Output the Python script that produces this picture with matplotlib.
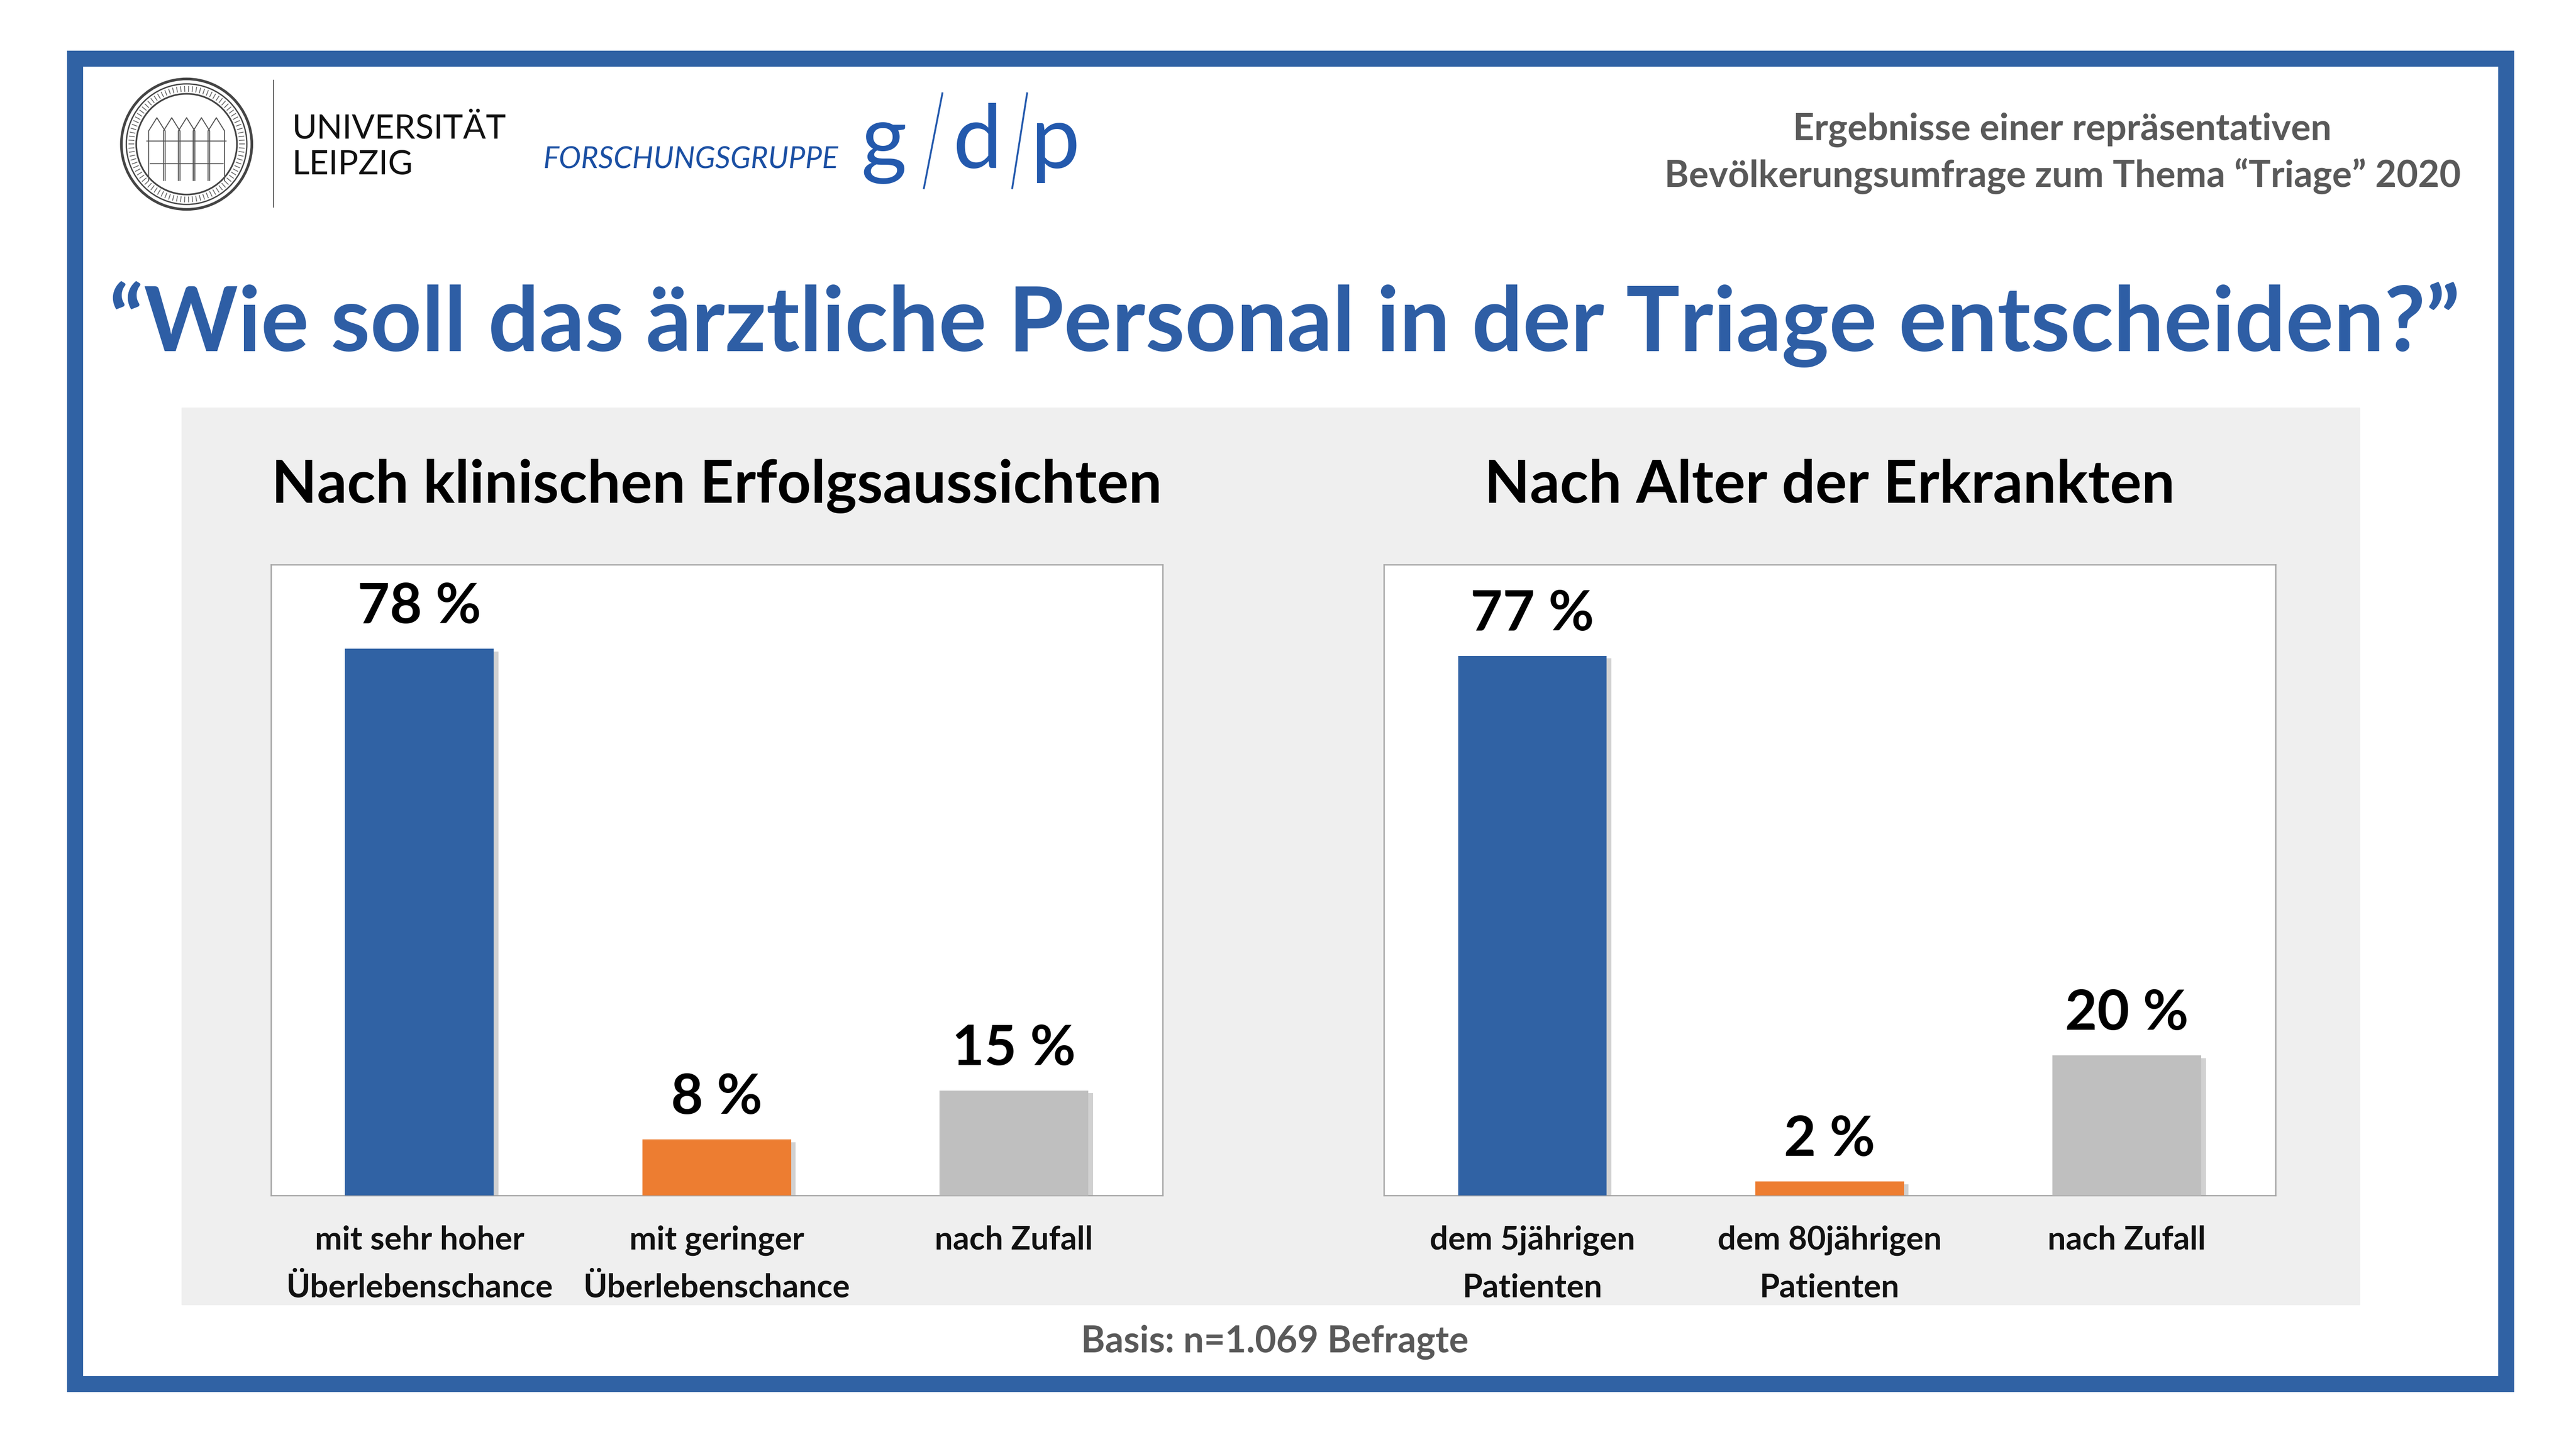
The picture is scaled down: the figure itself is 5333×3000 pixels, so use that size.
import numpy as np
import matplotlib
matplotlib.use("Agg")
import matplotlib.pyplot as plt
import matplotlib.patheffects as pe
from matplotlib.patches import Rectangle, Circle
from matplotlib.transforms import blended_transform_factory

plt.rcParams['font.family'] = ['Lato', 'DejaVu Sans']

# --- data -------------------------------------------------------------
title = "\u201cWie soll das ärztliche Personal in der Triage entscheiden?\u201d"
header_lines = ["Ergebnisse einer repräsentativen",
                "Bevölkerungsumfrage zum Thema \u201cTriage\u201d 2020"]
basis = "Basis: n=1.069 Befragte"

left_title = "Nach klinischen Erfolgsaussichten"
left_cats = ["mit sehr hoher\nÜberlebenschance", "mit geringer\nÜberlebenschance", "nach Zufall"]
left_vals = [78, 8, 15]
left_note = ["Es soll das", "Beatmungsgerät", "dem Patienten", "... geben."]

right_title = "Nach Alter der Erkrankten"
right_cats = ["dem 5jährigen\nPatienten", "dem 80jährigen\nPatienten", "nach Zufall"]
right_vals = [77, 2, 20]
right_note = ["Es soll das", "Beatmungsgerät", "... geben."]

bar_colors = ['#3062a4', '#ed7d31', '#bfbfbf']
blue = '#2e5ea5'

# layout grid in preview pixels (1560 wide), scaled to the 5333 px output
W, H = 1560, 877.5
fig = plt.figure(figsize=(53.33, 30), dpi=100)
K = fig.dpi * fig.get_figwidth() / W
PT = K * 72 / fig.dpi  # points per layout pixel

bg = fig.add_axes([0, 0, 1, 1])
bg.set_xlim(0, W)
bg.set_ylim(H, 0)
bg.axis('off')
renderer = fig.canvas.get_renderer()


def size_for(txt, width, weight='bold', style='normal'):
    # font size that makes txt as wide as `width` layout pixels
    t = bg.text(0, 0, txt, fontsize=50, fontweight=weight, fontstyle=style)
    w = t.get_window_extent(renderer).width
    t.remove()
    return 50 * width * K / w


# frame and grey panel
bg.add_patch(Rectangle((45.3, 35.5), 1472.3, 802.5, fill=False,
                       edgecolor='#3062a4', lw=9.7 * PT, joinstyle='miter'))
bg.add_patch(Rectangle((110, 247), 1319, 543, color='#efefef', zorder=0))

# university seal (simplified)
cx, cy = 113, 87.3
for r, lw in [(39.5, 1.6), (36.5, 0.8), (30.5, 1.0)]:
    bg.add_patch(Circle((cx, cy), r, fill=False, edgecolor='#444444', lw=lw * PT))
for a in np.linspace(0, 2 * np.pi, 90, endpoint=False):
    bg.plot([cx + 32 * np.cos(a), cx + 35 * np.cos(a)],
            [cy + 32 * np.sin(a), cy + 35 * np.sin(a)], color='#666666', lw=0.5 * PT)
for dx in [-18, -9, 0, 9, 18]:
    xs = cx + dx + np.array([-5, -5, 0, 5, 5])
    ys = cy + np.array([22, -8, -16, -8, 22])
    bg.plot(xs, ys, color='#555555', lw=0.6 * PT)
bg.plot([cx - 24, cx + 24], [cy - 2, cy - 2], color='#555555', lw=0.6 * PT)
bg.plot([cx - 22, cx + 22], [cy + 12, cy + 12], color='#555555', lw=0.6 * PT)
bg.plot([165.6, 165.6], [48.7, 125.4], color='#444444', lw=0.5 * PT)

fs_uni = size_for("UNIVERSITÄT", 130, weight='normal')
bg.text(176.8, 83.9, "UNIVERSITÄT", fontsize=fs_uni, color='#111111', va='baseline')
bg.text(176.8, 105.8, "LEIPZIG", fontsize=fs_uni, color='#111111', va='baseline')

fs_fg = size_for("FORSCHUNGSGRUPPE", 179, weight='normal', style='italic')
bg.text(329, 101.8, "FORSCHUNGSGRUPPE", fontsize=fs_fg, fontstyle='italic',
        color='#1a4fa3', va='baseline')
for letter, x0 in [("g", 521.5), ("d", 577), ("p", 624)]:
    bg.text(x0, 101.8, letter, fontsize=27 / 0.5065 * PT, color='#2359ad', va='baseline')
bg.plot([570.7, 559.5], [56.5, 114], color='#2359ad', lw=1.1 * PT)
bg.plot([622, 613], [56.5, 114], color='#2359ad', lw=1.1 * PT)

# header and title
fs_head = size_for(header_lines[1], 483)
for i, line in enumerate(header_lines):
    bg.text(1249, 84.8 + i * 28.7, line, fontsize=fs_head, fontweight='bold',
            color='#595959', ha='center', va='baseline')

bg.text(778, 212.7, title, fontsize=size_for(title, 1427), fontweight='bold',
        color=blue, ha='center', va='baseline')

fs_sub = size_for(left_title, 540)
fs_val = size_for("78 %", 75)
fs_note = size_for("Beatmungsgerät", 197)
fs_tick = size_for("Überlebenschance", 162)

panels = [
    (164, left_title, left_cats, left_vals, left_note, 490),
    (838, right_title, right_cats, right_vals, right_note, 1159),
]
for x0, sub, cats, vals, note, note_x in panels:
    ax = fig.add_axes([x0 / W, 1 - 724 / H, 540 / W, 382 / H])
    ax.set_facecolor('white')
    shadow = [pe.SimplePatchShadow(offset=(7, -4), shadow_rgbFace='#9a9a9a', alpha=0.45), pe.Normal()]
    ax.bar(range(len(vals)), vals, width=0.5, color=bar_colors, path_effects=shadow, zorder=3)
    ax.set_xlim(-0.5, 2.5)
    ax.set_ylim(0, 90)
    ax.set_xticks([])
    ax.set_yticks([])
    for s in ax.spines.values():
        s.set_color('#a6a6a6')
        s.set_linewidth(0.8 * PT)
    for i, v in enumerate(vals):
        ax.annotate(f"{v} %", (i, v), xytext=(0, 15.5 * PT), textcoords='offset points',
                    ha='center', va='baseline', fontsize=fs_val, fontweight='bold', color='black')
    tr = blended_transform_factory(ax.transData, bg.transData)
    for i, cat in enumerate(cats):
        for j, line in enumerate(cat.split("\n")):
            ax.text(i, 756.5 + j * 29, line, transform=tr, ha='center', va='baseline',
                    fontsize=fs_tick, fontweight='bold', color='#111111', clip_on=False)
    bg.text(x0 + 270, 304.5, sub, fontsize=fs_sub, fontweight='bold', color='black',
            ha='center', va='baseline')
    for j, line in enumerate(note):
        bg.text(note_x, 464.5 + j * 29.4, line, fontsize=fs_note, fontweight='bold',
                color='#666666', ha='center', va='baseline', zorder=5)

bg.text(772, 819, basis, fontsize=size_for(basis, 235), fontweight='bold',
        color='#595959', ha='center', va='baseline')

fig.savefig("out.png", dpi=100)
